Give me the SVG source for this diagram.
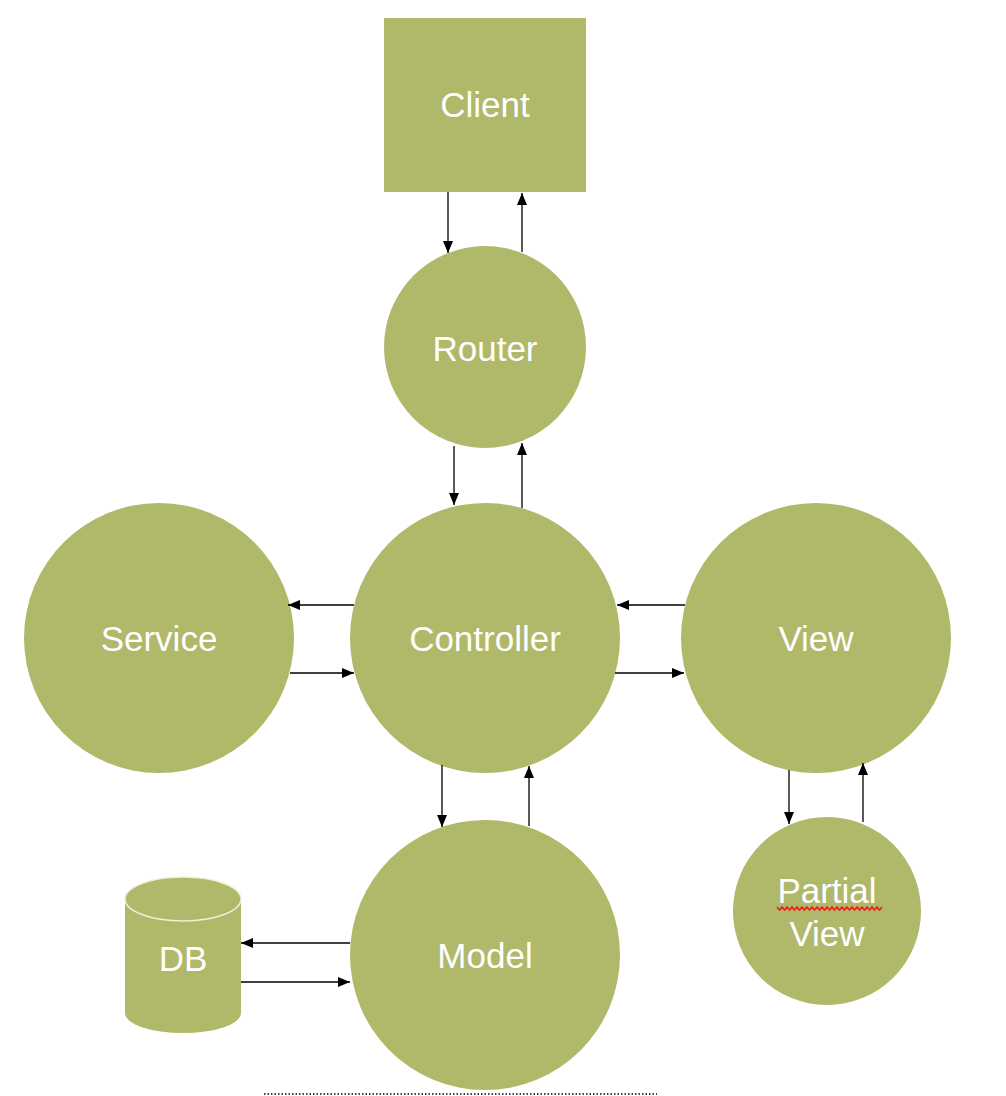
<svg xmlns="http://www.w3.org/2000/svg" width="1006" height="1096" viewBox="0 0 1006 1096">
<defs>
<style>
.n{fill:#b0b86a}
.t{fill:#fff;font-family:"Liberation Sans",Arial,sans-serif;font-size:35px;text-anchor:middle;dominant-baseline:central}
.c{stroke:#000;stroke-width:1.3;fill:none;marker-end:url(#ah)}
</style>
<marker id="ah" viewBox="0 0 12 10" refX="12" refY="5" markerWidth="12" markerHeight="10" markerUnits="userSpaceOnUse" orient="auto">
<path d="M0,0 L12,5 L0,10 Z" fill="#000"/>
</marker>
</defs>
<rect width="1006" height="1096" fill="#fff"/>
<g id="client"><rect class="n" x="384" y="18" width="202" height="174"/><text class="t" x="485" y="104">Client</text></g>
<g id="router"><circle class="n" cx="485" cy="347" r="101"/><text class="t" x="485" y="348">Router</text></g>
<g id="controller"><circle class="n" cx="485" cy="638" r="135"/><text class="t" x="485" y="638">Controller</text></g>
<g id="service"><circle class="n" cx="159" cy="638" r="135"/><text class="t" x="159" y="638">Service</text></g>
<g id="view"><circle class="n" cx="816" cy="638" r="135"/><text class="t" x="816" y="638">View</text></g>
<g id="model"><circle class="n" cx="485" cy="955" r="135"/><text class="t" x="485" y="955">Model</text></g>
<g id="partial-view"><circle class="n" cx="827" cy="911" r="94"/><text class="t" x="827" y="890">Partial</text><text class="t" x="827" y="933">View</text>
<path d="M777,907 l2.5,3 l2.5,-3 l2.5,3 l2.5,-3 l2.5,3 l2.5,-3 l2.5,3 l2.5,-3 l2.5,3 l2.5,-3 l2.5,3 l2.5,-3 l2.5,3 l2.5,-3 l2.5,3 l2.5,-3 l2.5,3 l2.5,-3 l2.5,3 l2.5,-3 l2.5,3 l2.5,-3 l2.5,3 l2.5,-3 l2.5,3 l2.5,-3 l2.5,3 l2.5,-3 l2.5,3 l2.5,-3 l2.5,3 l2.5,-3 l2.5,3 l2.5,-3 l2.5,3 l2.5,-3 l2.5,3 l2.5,-3 l2.5,3 l2.5,-3 l2.5,3 l2.5,-3" fill="none" stroke="#e8201c" stroke-width="1.5"/></g>
<g id="db"><path class="n" d="M125,899 L125,1013 A58,20 0 0 0 241,1013 L241,899 Z"/><ellipse cx="183" cy="899" rx="58" ry="22" fill="#b0b86a" stroke="#eef0d8" stroke-width="1.5"/><text class="t" x="183" y="958">DB</text></g>
<g id="connectors">
<path class="c" d="M448,192 V253"/>
<path class="c" d="M522,252 V193"/>
<path class="c" d="M454,446 V505"/>
<path class="c" d="M522,508 V443"/>
<path class="c" d="M354,605 H288"/>
<path class="c" d="M290,673 H354"/>
<path class="c" d="M685,605 H617"/>
<path class="c" d="M615,673 H684"/>
<path class="c" d="M442,765 V827"/>
<path class="c" d="M529,826 V766"/>
<path class="c" d="M350,943 H241"/>
<path class="c" d="M241,982 H350"/>
<path class="c" d="M789,770 V824"/>
<path class="c" d="M863,822 V763"/>
</g>
<line x1="264" y1="1094" x2="657" y2="1094" stroke="#000" stroke-width="1.5" stroke-dasharray="1.5 2"/>
</svg>
